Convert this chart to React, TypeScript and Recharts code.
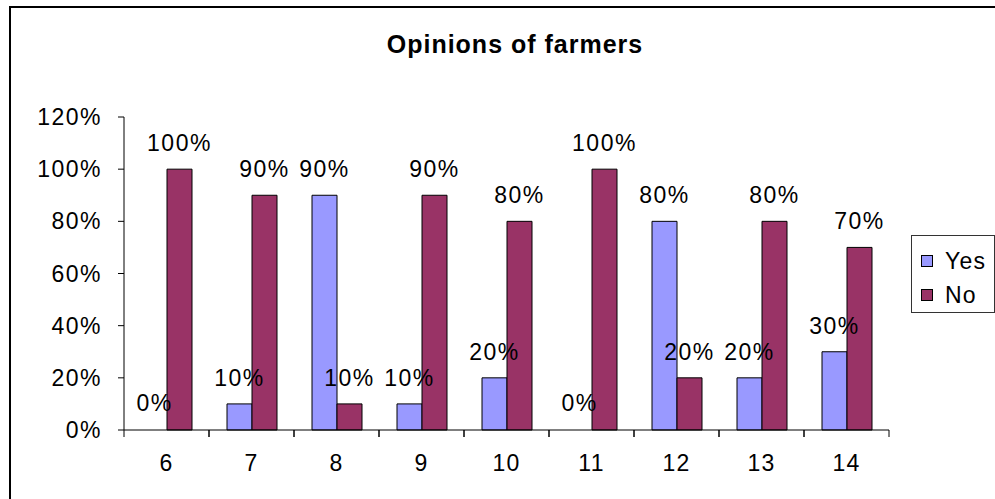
import React from "react";
import { BarChart, Bar, XAxis, YAxis, Legend, LabelList, Cell } from "recharts";

const categories = ["6", "7", "8", "9", "10", "11", "12", "13", "14"];
const yesShare = [0, 0.1, 0.9, 0.1, 0.2, 0, 0.8, 0.2, 0.3];
const noShare = [1, 0.9, 0.1, 0.9, 0.8, 1, 0.2, 0.8, 0.7];
const yTicks = [0, 0.2, 0.4, 0.6, 0.8, 1, 1.2];

const FONT = '"Liberation Sans", Arial, sans-serif';
const YES_COLOR = "#9999FF";
const NO_COLOR = "#993366";

const pct = (v: any) => `${Math.round(Number(v) * 100)}%`;

// category label plus the small tick marks on both edges of each band
function CategoryTick(props: any) {
    const { x, y, payload } = props;
    const half = payload.offset || 0;
    return (
        <g>
            <line x1={x - half} y1={y} x2={x - half} y2={y + 7} stroke="#000" />
            <line x1={x + half} y1={y} x2={x + half} y2={y + 7} stroke="#000" />
            <text x={x} y={y + 25} dy="0.71em" textAnchor="middle" fill="#000" fontSize={23} fontFamily={FONT} letterSpacing={1.2}>
                {payload.value}
            </text>
        </g>
    );
}

function LegendBox() {
    const items = [
        { name: "Yes", color: YES_COLOR },
        { name: "No", color: NO_COLOR },
    ];
    return (
        <div style={{
            border: "1px solid #333",
            boxSizing: "border-box",
            width: 84,
            height: 78,
            padding: "8px 0 0 9px",
            fontFamily: FONT,
            fontSize: 23,
            letterSpacing: 1.2,
            color: "#000",
            background: "#fff",
        }}>
            {items.map(it => (
                <div key={it.name} style={{ display: "flex", alignItems: "center", height: 34 }}>
                    <span style={{ display: "inline-block", width: 10, height: 10, background: it.color, border: "1px solid #000", marginRight: 12 }}></span>
                    <span>{it.name}</span>
                </div>
            ))}
        </div>
    );
}

export default function App() {
    const data = categories.map((c, i) => ({
        name: c,
        yes: yesShare[i],
        no: noShare[i],
        yesLabel: pct(yesShare[i]),
        noLabel: pct(noShare[i]),
    }));

    const labelStyle = { fill: "#000", fontSize: 23, letterSpacing: 1.5 };

    return (
        <div style={{ position: "absolute", left: 0, top: 0, width: 995, height: 499, background: "#fff", overflow: "hidden" }}>
            <BarChart
                width={995}
                height={499}
                data={data}
                margin={{ top: 117, right: 106, bottom: 29, left: 0 }}
                barGap={0}
                style={{ fontFamily: FONT }}
            >
                <XAxis
                    dataKey="name"
                    height={40}
                    tickSize={0}
                    tickMargin={0}
                    axisLine={{ stroke: "#000" }}
                    tick={<CategoryTick />}
                />
                <YAxis
                    domain={[0, 1.2]}
                    ticks={yTicks}
                    width={124}
                    tickSize={6}
                    tickMargin={16}
                    tickFormatter={pct}
                    axisLine={{ stroke: "#000" }}
                    tickLine={{ stroke: "#000" }}
                    tick={{ fill: "#000", fontSize: 23, letterSpacing: 1.5 }}
                />
                <Legend
                    layout="horizontal"
                    verticalAlign="middle"
                    align="center"
                    wrapperStyle={{ left: 911, top: 235, width: 84, height: 78 }}
                    content={() => <LegendBox />}
                />
                {/* minPointSize keeps the zero bars (and their labels) in the layout; they are drawn invisible */}
                <Bar dataKey="yes" name="Yes" fill={YES_COLOR} stroke="#000" strokeWidth={1} barSize={25} minPointSize={1} isAnimationActive={false}>
                    {data.map((d, i) => (
                        <Cell key={i} fill={d.yes === 0 ? "none" : YES_COLOR} stroke={d.yes === 0 ? "none" : "#000"} />
                    ))}
                    <LabelList dataKey="yesLabel" position="top" offset={18} style={labelStyle} />
                </Bar>
                <Bar dataKey="no" name="No" fill={NO_COLOR} stroke="#000" strokeWidth={1} barSize={25} isAnimationActive={false}>
                    <LabelList dataKey="noLabel" position="top" offset={18} style={labelStyle} />
                </Bar>
            </BarChart>
            <svg width={995} height={499} style={{ position: "absolute", left: 0, top: 0, pointerEvents: "none" }}>
                <rect x={10} y={7} width={1000} height={1000} fill="none" stroke="#000" strokeWidth={2} />
                <text x={515} y={53} textAnchor="middle" fontFamily={FONT} fontWeight="bold" fontSize={25} letterSpacing={1} fill="#000">
                    Opinions of farmers
                </text>
            </svg>
        </div>
    );
}
